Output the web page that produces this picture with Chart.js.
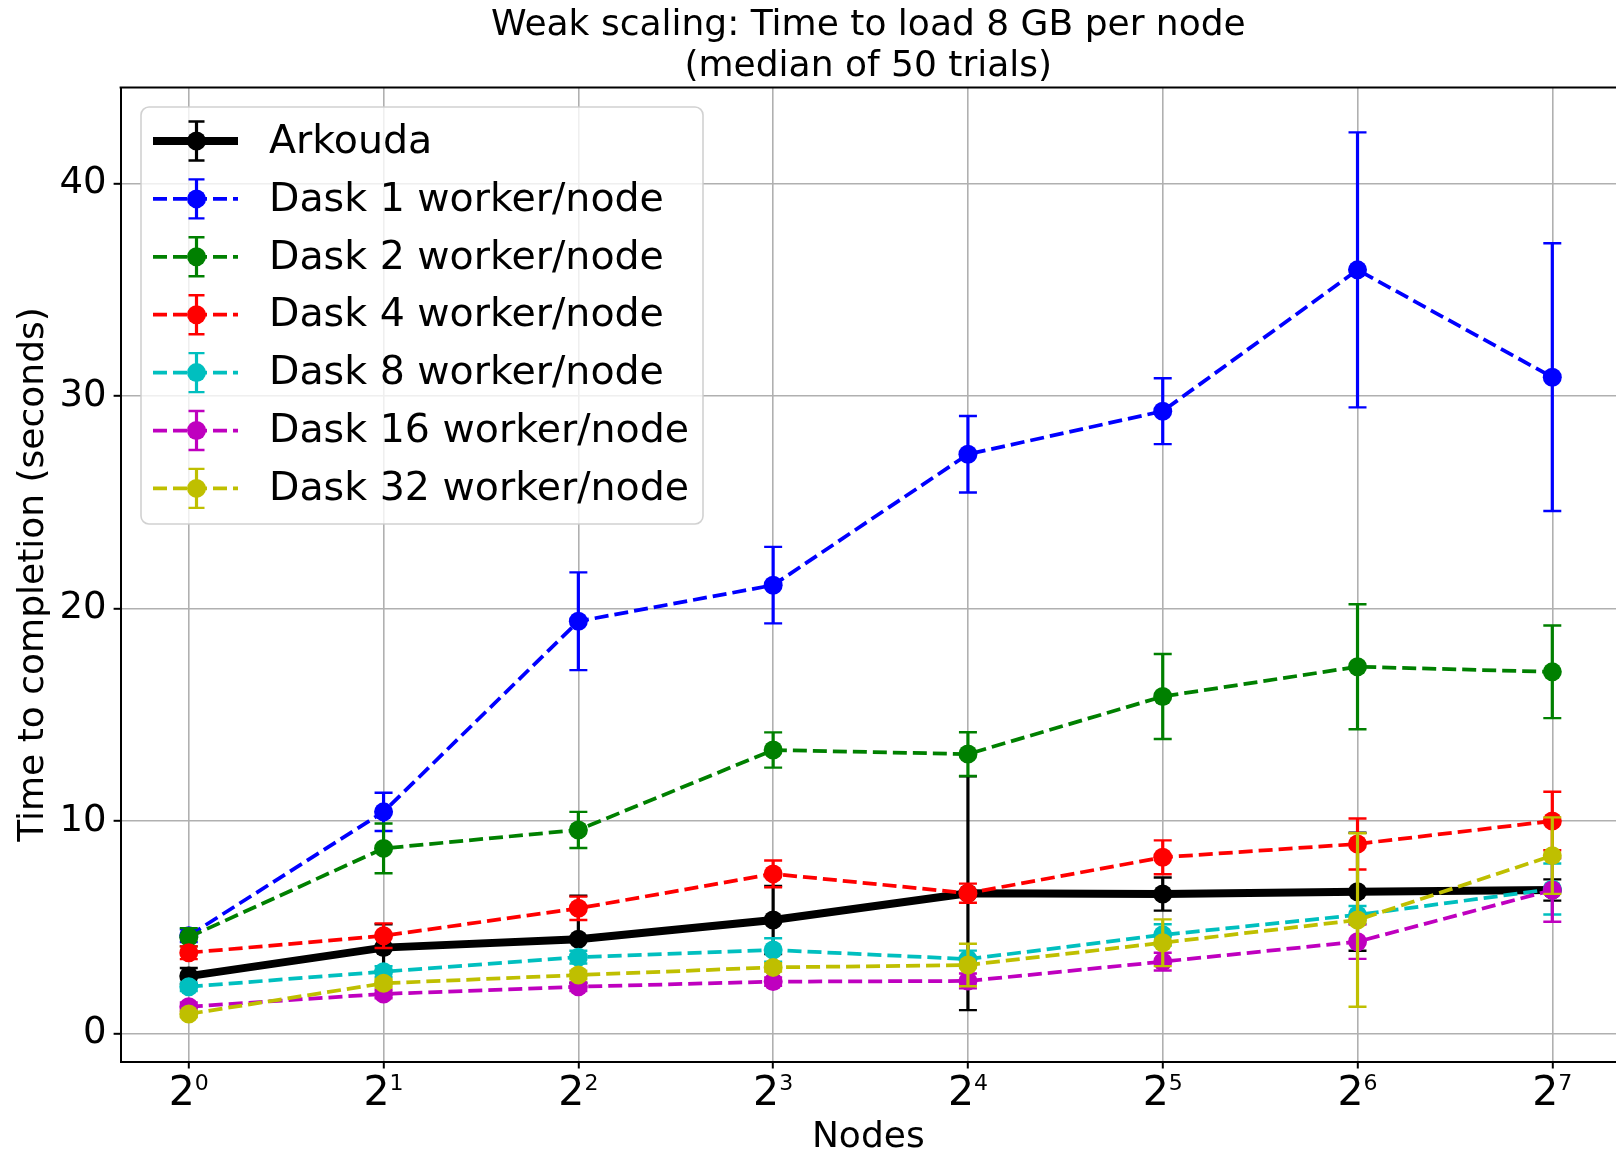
<!DOCTYPE html>
<html>
<head>
<meta charset="utf-8">
<title>Weak scaling: Time to load 8 GB per node</title>
<script src="https://cdn.jsdelivr.net/npm/chart.js@4.4.1/dist/chart.umd.min.js"></script>
<style>
  html, body { margin: 0; padding: 0; background: #fff; }
  #chart { display: block; }
</style>
</head>
<body>
<canvas id="chart" width="1616" height="1152"></canvas>
<script>
// x positions are log2(nodes); ticks read as 2 to the power of the exponent
const nodeExponents = [0, 1, 2, 3, 4, 5, 6, 7];
const tickBase = '2';
const tickPowers = ['0', '1', '2', '3', '4', '5', '6', '7'];
const yTicks = [0, 10, 20, 30, 40];

// median time (s) and error half-width
const arkoudaTime = [2.70, 4.04, 4.43, 5.34, 6.60, 6.56, 6.67, 6.75];
const arkoudaErr  = [0.38, 1.10, 2.05, 1.60, 5.50, 0.78, 2.78, 0.50];
const dask1Time   = [4.60, 10.43, 19.40, 21.10, 27.26, 29.29, 35.94, 30.89];
const dask1Err    = [0.30, 0.90, 2.30, 1.80, 1.80, 1.55, 6.47, 6.30];
const dask2Time   = [4.53, 8.71, 9.58, 13.34, 13.15, 15.86, 17.26, 17.02];
const dask2Err    = [0.43, 1.17, 0.85, 0.83, 1.03, 2.00, 2.94, 2.18];
const dask4Time   = [3.80, 4.60, 5.89, 7.51, 6.60, 8.29, 8.92, 10.00];
const dask4Err    = [0.30, 0.58, 0.55, 0.63, 0.45, 0.80, 1.20, 1.38];
const dask8Time   = [2.20, 2.91, 3.59, 3.93, 3.50, 4.64, 5.58, 6.80];
const dask8Err    = [0.20, 0.25, 0.30, 0.55, 0.40, 0.50, 0.42, 1.20];
const dask16Time  = [1.26, 1.86, 2.20, 2.44, 2.47, 3.38, 4.32, 6.75];
const dask16Err   = [0.20, 0.20, 0.20, 0.20, 0.35, 0.42, 0.81, 1.49];
const dask32Time  = [0.92, 2.36, 2.75, 3.11, 3.22, 4.27, 5.34, 8.37];
const dask32Err   = [0.15, 0.20, 0.20, 0.20, 1.00, 1.10, 4.08, 1.80];

const FONT = "'DejaVu Sans', sans-serif";
Chart.defaults.font.family = FONT;
Chart.defaults.color = '#000';

const DASH = [14, 6];
const series = [
    { label: 'Arkouda',             values: arkoudaTime, errors: arkoudaErr, color: '#000000', width: 8,    dash: [] },
    { label: 'Dask 1 worker/node',  values: dask1Time,   errors: dask1Err,   color: '#0000ff', width: 3.75, dash: DASH },
    { label: 'Dask 2 worker/node',  values: dask2Time,   errors: dask2Err,   color: '#008000', width: 3.75, dash: DASH },
    { label: 'Dask 4 worker/node',  values: dask4Time,   errors: dask4Err,   color: '#ff0000', width: 3.75, dash: DASH },
    { label: 'Dask 8 worker/node',  values: dask8Time,   errors: dask8Err,   color: '#00bfbf', width: 3.75, dash: DASH },
    { label: 'Dask 16 worker/node', values: dask16Time,  errors: dask16Err,  color: '#bf00bf', width: 3.75, dash: DASH },
    { label: 'Dask 32 worker/node', values: dask32Time,  errors: dask32Err,  color: '#bfbf00', width: 3.75, dash: DASH }
];

const datasets = series.map((s, i) => ({
    label: s.label,
    data: nodeExponents.map((x, j) => ({ x: x, y: s.values[j] })),
    errors: s.errors,
    borderColor: s.color,
    backgroundColor: s.color,
    borderWidth: s.width,
    borderDash: s.dash,
    pointRadius: 9.5,
    pointBorderWidth: 0,
    pointBackgroundColor: s.color,
    tension: 0,
    order: series.length - i   // later series drawn on top, like matplotlib
}));

// vertical error bars with caps, drawn just before each series
const errorBars = {
    id: 'errorBars',
    beforeDatasetDraw(chart, args) {
        const ds = chart.data.datasets[args.index];
        const xs = chart.scales.x, ys = chart.scales.y;
        const area = chart.chartArea;
        const ctx = chart.ctx;
        ctx.save();
        ctx.beginPath();
        ctx.rect(area.left, area.top, area.right - area.left, area.bottom - area.top);
        ctx.clip();
        ctx.strokeStyle = ds.borderColor;
        ctx.setLineDash([]);
        ds.data.forEach((p, j) => {
            const x = xs.getPixelForValue(p.x);
            const yHi = ys.getPixelForValue(p.y + ds.errors[j]);
            const yLo = ys.getPixelForValue(p.y - ds.errors[j]);
            ctx.lineWidth = 3.2;
            ctx.beginPath();
            ctx.moveTo(x, yHi);
            ctx.lineTo(x, yLo);
            ctx.stroke();
            ctx.lineWidth = 2.4;
            ctx.beginPath();
            ctx.moveTo(x - 9, yHi); ctx.lineTo(x + 9, yHi);
            ctx.moveTo(x - 9, yLo); ctx.lineTo(x + 9, yLo);
            ctx.stroke();
        });
        ctx.restore();
    }
};

// top spine (left and bottom come from the axis borders)
const topSpine = {
    id: 'topSpine',
    afterDatasetsDraw(chart) {
        const { ctx, chartArea } = chart;
        ctx.save();
        ctx.strokeStyle = '#000';
        ctx.lineWidth = 2;
        ctx.beginPath();
        ctx.moveTo(chartArea.left - 1, chartArea.top);
        ctx.lineTo(chartArea.right, chartArea.top);
        ctx.stroke();
        ctx.restore();
    }
};

// x tick labels as 2 with a raised exponent, centred on each tick
const powerTicks = {
    id: 'powerTicks',
    afterDraw(chart) {
        const ctx = chart.ctx;
        const xs = chart.scales.x;
        ctx.save();
        ctx.fillStyle = '#000';
        ctx.textAlign = 'left';
        ctx.textBaseline = 'alphabetic';
        nodeExponents.forEach((v, i) => {
            const x = xs.getPixelForValue(v);
            ctx.font = '41px ' + FONT;
            const wb = ctx.measureText(tickBase).width;
            ctx.font = '22px ' + FONT;
            const wp = ctx.measureText(tickPowers[i]).width;
            const x0 = x - (wb + wp) / 2;
            ctx.font = '41px ' + FONT;
            ctx.fillText(tickBase, x0, 1105);
            ctx.font = '22px ' + FONT;
            ctx.fillText(tickPowers[i], x0 + wb, 1090);
        });
        ctx.restore();
    }
};

// matplotlib-style legend box in the upper left corner
const boxLegend = {
    id: 'boxLegend',
    afterDraw(chart) {
        const ctx = chart.ctx;
        ctx.save();
        ctx.beginPath();
        ctx.roundRect(141, 107, 562, 417, 8);
        ctx.fillStyle = 'rgba(255,255,255,0.8)';
        ctx.fill();
        ctx.strokeStyle = 'rgba(204,204,204,0.9)';
        ctx.lineWidth = 1.6;
        ctx.stroke();

        chart.data.datasets.forEach((ds, i) => {
            const y = 141 + 57.9 * i;
            const mx = 196.5;
            ctx.strokeStyle = ds.borderColor;
            ctx.lineWidth = ds.borderWidth;
            ctx.setLineDash(ds.borderDash);
            ctx.beginPath();
            ctx.moveTo(153, y);
            ctx.lineTo(238, y);
            ctx.stroke();
            ctx.setLineDash([]);
            ctx.lineWidth = 3.2;
            ctx.beginPath();
            ctx.moveTo(mx, y - 19.5);
            ctx.lineTo(mx, y + 19.5);
            ctx.stroke();
            ctx.lineWidth = 2.4;
            ctx.beginPath();
            ctx.moveTo(mx - 8, y - 19.5); ctx.lineTo(mx + 8, y - 19.5);
            ctx.moveTo(mx - 8, y + 19.5); ctx.lineTo(mx + 8, y + 19.5);
            ctx.stroke();
            ctx.fillStyle = ds.borderColor;
            ctx.beginPath();
            ctx.arc(mx, y, 9.5, 0, Math.PI * 2);
            ctx.fill();
            ctx.fillStyle = '#000';
            ctx.font = '39.5px ' + FONT;
            ctx.textAlign = 'left';
            ctx.textBaseline = 'middle';
            ctx.fillText(ds.label, 269, y + 1.5);
        });
        ctx.restore();
    }
};

const gridStyle = { color: '#b0b0b0', lineWidth: 1.6, tickColor: '#000', tickWidth: 2, tickLength: 7 };
const borderStyle = { display: true, color: '#000', width: 2 };

new Chart(document.getElementById('chart'), {
    type: 'line',
    data: { datasets: datasets },
    plugins: [errorBars, topSpine, powerTicks, boxLegend],
    options: {
        responsive: false,
        animation: false,
        events: [],
        layout: { padding: 0, autoPadding: false },
        plugins: {
            legend: { display: false },
            tooltip: { enabled: false },
            title: {
                display: true,
                fullSize: false,
                text: ['Weak scaling: Time to load 8 GB per node', '(median of 50 trials)'],
                color: '#000',
                font: { size: 36, weight: 'normal', lineHeight: 1.147 },
                padding: { top: 5, bottom: 0 }
            }
        },
        scales: {
            x: {
                type: 'linear',
                min: -0.35,
                max: 7.327,
                afterBuildTicks: ax => { ax.ticks = nodeExponents.map(v => ({ value: v })); },
                afterFit: ax => { ax.height = 90.5; },
                ticks: { display: false },
                grid: gridStyle,
                border: borderStyle,
                title: {
                    display: true,
                    text: 'Nodes',
                    color: '#000',
                    font: { size: 36, lineHeight: 0.82 },
                    padding: 0
                }
            },
            y: {
                type: 'linear',
                min: -1.32,
                max: 44.52,
                afterBuildTicks: ax => { ax.ticks = yTicks.map(v => ({ value: v })); },
                afterFit: ax => { ax.width = 120.6; },
                ticks: {
                    font: { size: 37 },
                    color: '#000',
                    padding: 7
                },
                grid: gridStyle,
                border: borderStyle,
                title: {
                    display: true,
                    text: 'Time to completion (seconds)',
                    color: '#000',
                    font: { size: 36, lineHeight: 1.2 },
                    padding: { top: 11.7, bottom: 0 }
                }
            }
        }
    }
});
</script>
</body>
</html>
